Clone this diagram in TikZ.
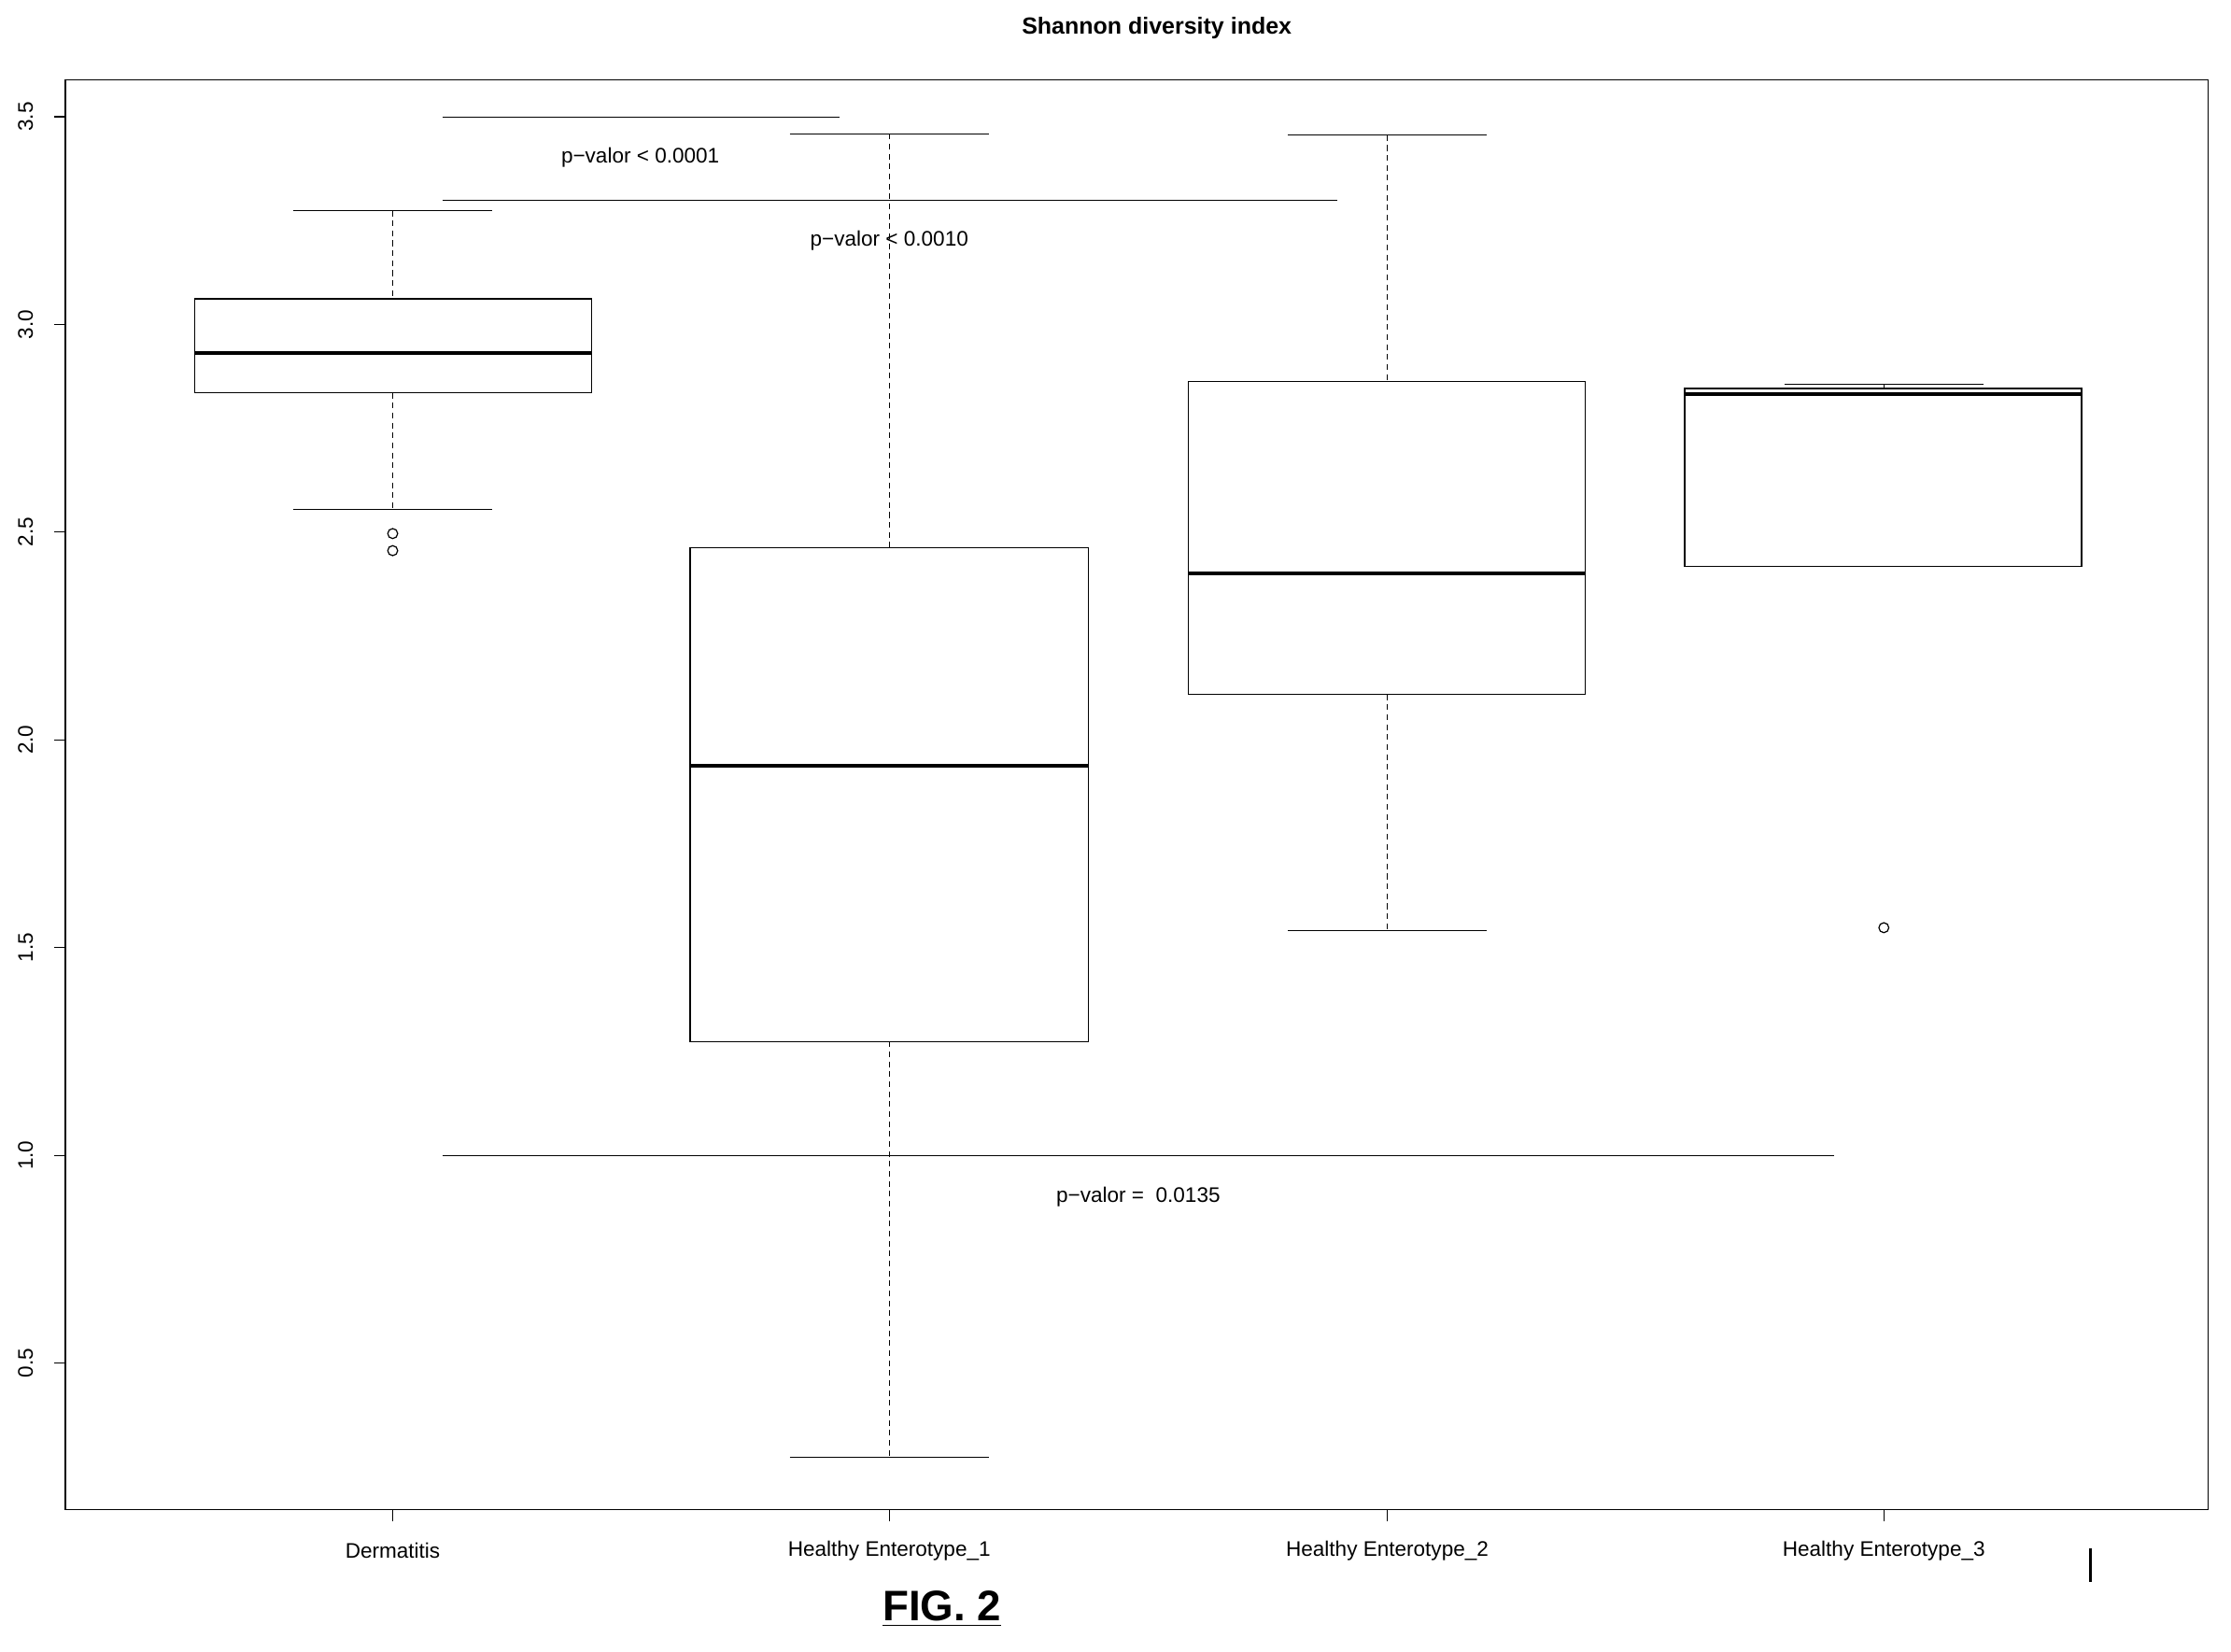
\documentclass[tikz,border=0pt]{standalone}
\usepackage{fontspec}
\setmainfont{Liberation Sans}
\begin{document}
\begin{tikzpicture}[x=0.5pt,y=-0.5pt,
  lbl/.style={font=\fontsize{7.4}{8}\selectfont,inner sep=0},
  med/.style={line width=1.4pt},
  thin/.style={line width=0.4pt},
  wh/.style={line width=0.4pt,dashed,dash pattern=on 2pt off 1.5pt}]
\useasboundingbox (0,0) rectangle (1568,1161);
\draw[thin] (46,56) rectangle (1552,1061);
\node[font=\bfseries\fontsize{8.2}{9}\selectfont] (title) at (813,20) {Shannon diversity index};
% y axis ticks
\foreach \v/\p in {0.5/958,1.0/812,1.5/666,2.0/520,2.5/374,3.0/228,3.5/82}{
  \draw[thin] (46,\p) -- (38,\p);
  \node[lbl,rotate=90] at (18,\p) {\v};}
% x ticks & labels
\foreach \x/\t in {276/Dermatitis,625/Healthy Enterotype\_1,975/Healthy Enterotype\_2,1324/Healthy Enterotype\_3}{
  \draw[thin] (\x,1061) -- (\x,1069);
  \node[lbl] at (\x,1090) {\t};}
% Dermatitis
\draw[wh] (276,148) -- (276,210) (276,276) -- (276,358);
\draw[thin] (206,148) -- (346,148) (206,358) -- (346,358);
\draw[thin,fill=white] (137,210) rectangle (416,276);
\draw[med] (137,248) -- (416,248);
\draw[thin] (276,375) circle (3.5) (276,387) circle (3.5);
% E1
\draw[wh] (625,94) -- (625,385) (625,732) -- (625,1024);
\draw[thin] (555,94) -- (695,94) (555,1024) -- (695,1024);
\draw[thin] (485,385) rectangle (765,732);
\draw[med] (485,538) -- (765,538);
% E2
\draw[wh] (975,95) -- (975,268) (975,488) -- (975,654);
\draw[thin] (905,95) -- (1045,95) (905,654) -- (1045,654);
\draw[thin] (835,268) rectangle (1114,488);
\draw[med] (835,403) -- (1114,403);
% E3
\draw[thin] (1254,270) -- (1394,270);
\draw[wh] (1324,270) -- (1324,273);
\draw[thin] (1184,273) rectangle (1463,398);
\draw[med] (1184,277) -- (1463,277);
\draw[thin] (1324,652) circle (3.5);
% significance
\draw[thin] (311,82.3) -- (590,82.3);
\node[lbl] (p1) at (450,111) {p−valor < 0.0001};
\draw[thin] (311,141) -- (940,141);
\node[lbl] (p2) at (625,169) {p−valor < 0.0010};
\draw[thin] (311,812) -- (1289,812);
\node[lbl] (p3) at (800,841) {p−valor =\ \ 0.0135};
\node[font=\bfseries\fontsize{15}{16}\selectfont,inner sep=0] (fig) at (662,1131) {\underline{FIG. 2}};
\draw[line width=1pt] (1469,1088) -- (1469,1112);
\end{tikzpicture}
\end{document}
